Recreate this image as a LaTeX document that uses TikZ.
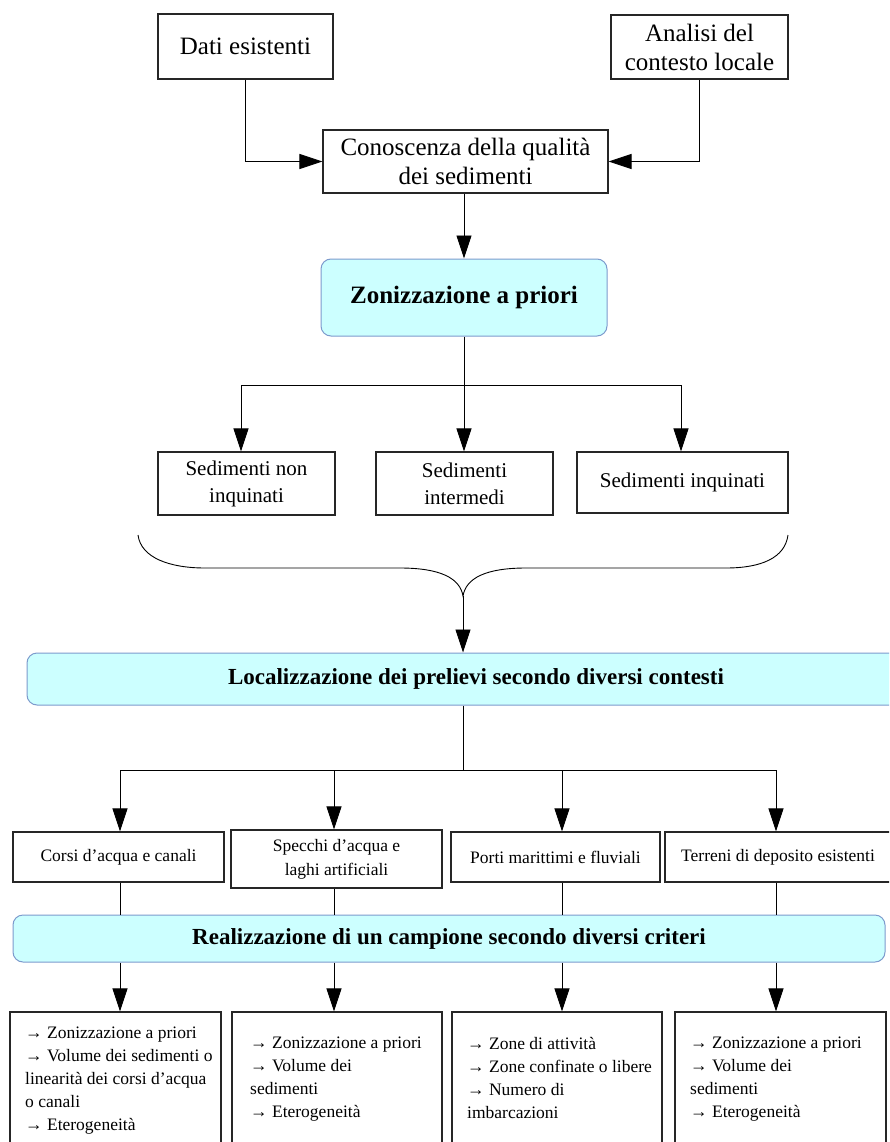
\documentclass[tikz,border=0pt]{standalone}
\usepackage{fontspec}
\setmainfont{Liberation Serif}
\usetikzlibrary{arrows.meta}
\definecolor{cyanfill}{RGB}{204,255,255}
\definecolor{cyanline}{RGB}{125,155,205}
\begin{document}
\begin{tikzpicture}[x=1pt,y=-1pt,
  box/.style={draw=black!85, line width=1.1pt, inner sep=0pt, align=center},
  rbox/.style={draw=cyanline, fill=cyanfill, line width=1pt, rounded corners=10pt, inner sep=0pt, align=center, font=\bfseries\fontsize{23}{27}\selectfont},
  arr/.style={-{Triangle[length=23pt,width=15pt]}, line width=0.9pt},
  ln/.style={line width=0.9pt},
  bigtxt/.style={font=\fontsize{25}{29}\selectfont},
  medtxt/.style={font=\fontsize{21}{27}\selectfont},
  smtxt/.style={font=\fontsize{17.5}{24}\selectfont},
  btxt/.style={align=left, inner sep=0pt, font=\fontsize{17.5}{23}\selectfont}
]
\clip (0,0) rectangle (889,1142);
\fill[white] (0,0) rectangle (889,1142);

% top
\node[box, bigtxt, minimum width=175pt, minimum height=65pt] (dati) at (245.5,46.5) {Dati esistenti};
\node[box, bigtxt, minimum width=177pt, minimum height=64pt] (anal) at (699.5,47) {Analisi del\\contesto locale};
\node[box, bigtxt, minimum width=285pt, minimum height=63pt] (con) at (465.5,161.5) {Conoscenza della qualità\\dei sedimenti};
\draw[arr] (dati.south) |- (con.west);
\draw[arr] (anal.south) |- (con.east);

\node[rbox, font=\bfseries\fontsize{25}{29}\selectfont, minimum width=286pt, minimum height=77pt] (zon) at (464,297.5) {Zonizzazione a priori};
\draw[arr] (con.south -| zon.north) -- (zon.north);

% three categories
\node[box, medtxt, minimum width=177pt, minimum height=63pt] (s1) at (246.5,483.5) {Sedimenti non\\inquinati};
\node[box, medtxt, minimum width=177pt, minimum height=63pt] (s2) at (464.5,483.5) {Sedimenti\\intermedi};
\node[box, medtxt, minimum width=211pt, minimum height=61pt] (s3) at (682.5,482.5) {Sedimenti inquinati};
\coordinate (ta) at (241,385);
\coordinate (tb) at (464,385);
\coordinate (tc) at (681,385);
\draw[ln] (zon.south) -- (tb);
\draw[ln] (ta) -- (tc);
\draw[arr] (ta) -- (ta |- s1.north);
\draw[arr] (tb) -- (tb |- s2.north);
\draw[arr] (tc) -- (tc |- s3.north);

% brace
\coordinate (bl) at (138,535);
\coordinate (br) at (788,535);
\coordinate (btip) at (463,596);
\draw[ln] (bl) .. controls (141,558) and (170,568) .. (205,568) -- (400,568)
  .. controls (440,568) and (460,578) .. (btip)
  .. controls (466,578) and (486,568) .. (526,568) -- (726,568)
  .. controls (761,568) and (785,558) .. (br);

\node[rbox, minimum width=898pt, minimum height=52pt] (loc) at (476,679) {Localizzazione dei prelievi secondo diversi contesti};
\draw[arr] (btip) -- (btip |- loc.north);

% four contexts
\node[box, smtxt, minimum width=211pt, minimum height=50pt] (c1) at (118.5,857) {Corsi d’acqua e canali};
\node[box, smtxt, minimum width=211pt, minimum height=58pt] (c2) at (336.5,859) {Specchi d’acqua e\\laghi artificiali};
\node[box, smtxt, minimum width=209pt, minimum height=50pt] (c3) at (555.5,857) {Porti marittimi e fluviali};
\node[box, smtxt, minimum width=226pt, minimum height=50pt] (c4) at (778,857) {Terreni di deposito esistenti};
\coordinate (j0) at (463,770);
\coordinate (b1) at (120,770);
\coordinate (b2) at (334,770);
\coordinate (b3) at (562,770);
\coordinate (b4) at (776,770);
\draw[ln] (loc.south -| j0) -- (j0);
\draw[ln] (b1) -- (b4);
\draw[arr] (b1) -- (b1 |- c1.north);
\draw[arr] (b2) -- (b2 |- c2.north);
\draw[arr] (b3) -- (b3 |- c3.north);
\draw[arr] (b4) -- (b4 |- c4.north);

\node[rbox, minimum width=872pt, minimum height=47pt] (real) at (449,938.5) {Realizzazione di un campione secondo diversi criteri};
\draw[ln] (b1 |- c1.south) -- (b1 |- real.north);
\draw[ln] (b2 |- c2.south) -- (b2 |- real.north);
\draw[ln] (b3 |- c3.south) -- (b3 |- real.north);
\draw[ln] (b4 |- c4.south) -- (b4 |- real.north);

% bottom boxes
\node[box, minimum width=211pt, minimum height=140pt] (x1) at (115.5,1082) {};
\node[box, minimum width=210pt, minimum height=140pt] (x2) at (337,1082) {};
\node[box, minimum width=210pt, minimum height=140pt] (x3) at (557,1082) {};
\node[box, minimum width=211pt, minimum height=140pt] (x4) at (780.5,1082) {};
\draw[arr] (b1 |- real.south) -- (b1 |- x1.north);
\draw[arr] (b2 |- real.south) -- (b2 |- x2.north);
\draw[arr] (b3 |- real.south) -- (b3 |- x3.north);
\draw[arr] (b4 |- real.south) -- (b4 |- x4.north);

\node[btxt, anchor=north west] (t1) at (25,1027) {→ Zonizzazione a priori\\→ Volume dei sedimenti o\\linearità dei corsi d’acqua\\o canali\\→ Eterogeneità};
\node[btxt, anchor=north west] (t2) at (250,1037) {→ Zonizzazione a priori\\→ Volume dei\\sedimenti\\→ Eterogeneità};
\node[btxt, anchor=north west] (t3) at (467,1037) {→ Zone di attività\\→ Zone confinate o libere\\→ Numero di\\imbarcazioni};
\node[btxt, anchor=north west] (t4) at (690,1037) {→ Zonizzazione a priori\\→ Volume dei\\sedimenti\\→ Eterogeneità};
\end{tikzpicture}
\end{document}
